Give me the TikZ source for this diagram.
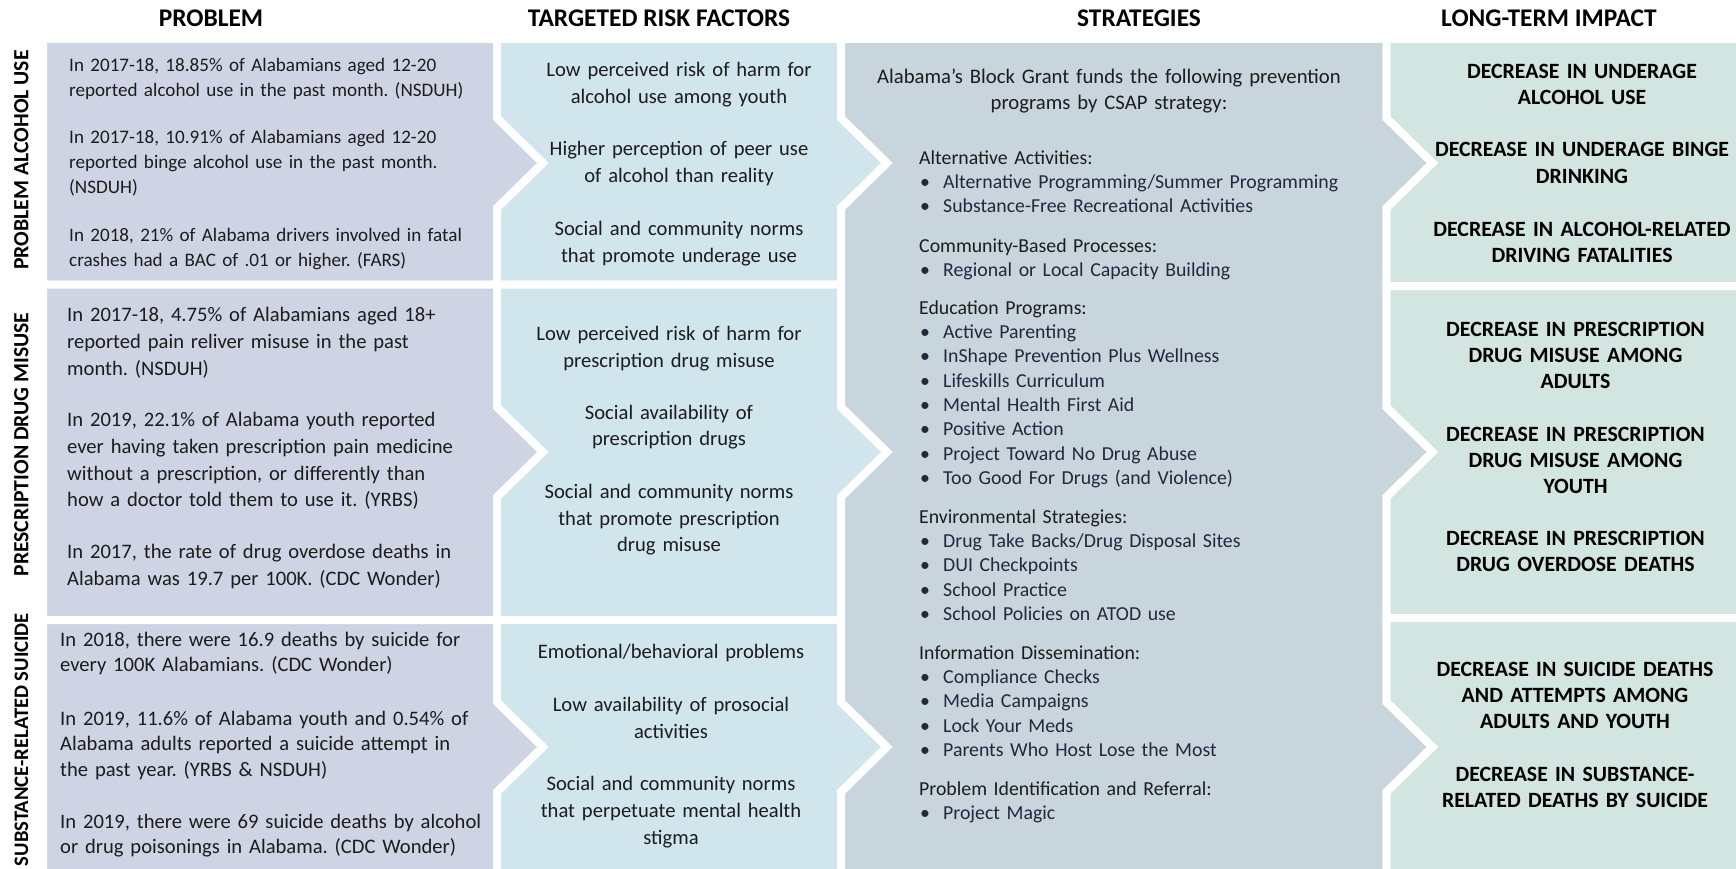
\documentclass[tikz,border=0pt]{standalone}
\usepackage{fontspec}
\setmainfont{Carlito}
\frenchspacing
\definecolor{probfill}{RGB}{206,212,228}
\definecolor{riskfill}{RGB}{208,229,236}
\definecolor{stratfill}{RGB}{201,213,220}
\definecolor{impfill}{RGB}{210,229,224}
\definecolor{ink}{RGB}{28,28,28}
\definecolor{listink}{RGB}{36,38,62}
\newcommand\stratitem[1]{\hspace*{1pt}\makebox[23pt][l]{\textbullet}#1}

\begin{document}
\begin{tikzpicture}[x=1pt,y=-1pt,
  panel/.style={draw=white, line width=8pt, line join=miter},
  colhead/.style={font=\fontsize{25.4}{30}\selectfont\bfseries, anchor=base, inner sep=0pt, text=black},
  rowhead/.style={font=\fontsize{21.7}{26}\selectfont\bfseries, anchor=base, rotate=90, inner sep=0pt, text=black},
  probtxt/.style={anchor=base west, inner sep=0pt, align=left, text width=450pt, text=ink},
  risktxt/.style={anchor=base, inner sep=0pt, align=center, text width=330pt, text=ink,
    font=\fontsize{20.6}{26.7}\selectfont},
  introtxt/.style={anchor=base, inner sep=0pt, align=center, text width=520pt, text=ink,
    font=\fontsize{20.7}{26.7}\selectfont},
  grouptxt/.style={anchor=base west, inner sep=0pt, align=left, text width=440pt, text=ink,
    font=\fontsize{19.8}{24.3}\selectfont},
  imptxt/.style={anchor=base, inner sep=0pt, align=center, text width=340pt, text=black,
    font=\fontsize{21.8}{26.2}\selectfont\bfseries},
]
\useasboundingbox (0,0) rectangle (1736,869);
\clip (0,0) rectangle (1736,869);

% ---------- problem column (one panel per row, chevron on the right)
\path[panel, fill=probfill] (43,39) -- (497,39) -- (497,118) -- (543,163) -- (497,208)
  -- (497,284.5) -- (43,284.5) -- cycle;
\path[panel, fill=probfill] (43,284.5) -- (497,284.5) -- (497,407) -- (543,452) -- (497,497)
  -- (497,620) -- (43,620) -- cycle;
\path[panel, fill=probfill] (43,620) -- (497,620) -- (497,702) -- (543,747) -- (497,792)
  -- (497,875) -- (43,875) -- cycle;

% ---------- risk factor column (notch on the left, chevron on the right)
\path[panel, fill=riskfill] (497,39) -- (841,39) -- (841,118) -- (887,163) -- (841,208)
  -- (841,284.5) -- (497,284.5) -- (497,208) -- (543,163) -- (497,118) -- cycle;
\path[panel, fill=riskfill] (497,284.5) -- (841,284.5) -- (841,407) -- (887,452) -- (841,497)
  -- (841,620) -- (497,620) -- (497,497) -- (543,452) -- (497,407) -- cycle;
\path[panel, fill=riskfill] (497,620) -- (841,620) -- (841,702) -- (887,747) -- (841,792)
  -- (841,875) -- (497,875) -- (497,792) -- (543,747) -- (497,702) -- cycle;

% ---------- strategies column (one tall panel)
\path[panel, fill=stratfill] (841,39) -- (1386.5,39)
  -- (1386.5,118) -- (1432.5,163) -- (1386.5,208)
  -- (1386.5,407) -- (1432.5,452) -- (1386.5,497)
  -- (1386.5,702) -- (1432.5,747) -- (1386.5,792)
  -- (1386.5,875) -- (841,875)
  -- (841,792) -- (887,747) -- (841,702)
  -- (841,497) -- (887,452) -- (841,407)
  -- (841,208) -- (887,163) -- (841,118) -- cycle;

% ---------- long-term impact column
\path[panel, fill=impfill] (1386.5,39) -- (1750,39) -- (1750,286) -- (1386.5,286)
  -- (1386.5,208) -- (1432.5,163) -- (1386.5,118) -- cycle;
\path[panel, fill=impfill] (1386.5,286) -- (1750,286) -- (1750,618) -- (1386.5,618)
  -- (1386.5,497) -- (1432.5,452) -- (1386.5,407) -- cycle;
\path[panel, fill=impfill] (1386.5,618) -- (1750,618) -- (1750,875) -- (1386.5,875)
  -- (1386.5,792) -- (1432.5,747) -- (1386.5,702) -- cycle;

% ---------- column headings
\node[colhead] (hprob)  at (211,26.5)  {PROBLEM};
\node[colhead] (hrisk)  at (659,26.5)  {TARGETED RISK FACTORS};
\node[colhead] (hstrat) at (1139,26.5) {STRATEGIES};
\node[colhead] (himp)   at (1549,26.5) {LONG-TERM IMPACT};

% ---------- row headings
\node[rowhead] (ralc) at (28.3,160)   {PROBLEM ALCOHOL USE};
\node[rowhead] (rrx)  at (28.3,444.5) {PRESCRIPTION DRUG MISUSE};
\node[rowhead, font=\fontsize{20.6}{25}\selectfont\bfseries] (rsui) at (28,739.5) {SUBSTANCE-RELATED SUICIDE};

% ---------- problem statements
\begin{scope}[every node/.append style={font=\fontsize{19.1}{25}\selectfont}]
\node[probtxt] (p11) at (69,71.5) {In 2017-18, 18.85\% of Alabamians aged 12-20\\reported alcohol use in the past month. (NSDUH)};
\node[probtxt] (p12) at (69,143.3) {In 2017-18, 10.91\% of Alabamians aged 12-20\\reported binge alcohol use in the past month.\\(NSDUH)};
\node[probtxt] (p13) at (69,241) {In 2018, 21\% of Alabama drivers involved in fatal\\crashes had a BAC of .01 or higher. (FARS)};
\end{scope}
\begin{scope}[every node/.append style={font=\fontsize{20.6}{26.7}\selectfont}]
\node[probtxt] (p21) at (67,321.7) {In 2017-18, 4.75\% of Alabamians aged 18+\\reported pain reliver misuse in the past\\month. (NSDUH)};
\node[probtxt] (p22) at (67,426.7) {In 2019, 22.1\% of Alabama youth reported\\ever having taken prescription pain medicine\\without a prescription, or differently than\\how a doctor told them to use it. (YRBS)};
\node[probtxt] (p23) at (67,558.3) {In 2017, the rate of drug overdose deaths in\\Alabama was 19.7 per 100K. (CDC Wonder)};
\end{scope}
\begin{scope}[every node/.append style={font=\fontsize{20.6}{25.8}\selectfont}]
\node[probtxt] (p31) at (60,646) {In 2018, there were 16.9 deaths by suicide for\\every 100K Alabamians. (CDC Wonder)};
\node[probtxt] (p32) at (60,725) {In 2019, 11.6\% of Alabama youth and 0.54\% of\\Alabama adults reported a suicide attempt in\\the past year. (YRBS \& NSDUH)};
\node[probtxt] (p33) at (60,828) {In 2019, there were 69 suicide deaths by alcohol\\or drug poisonings in Alabama. (CDC Wonder)};
\end{scope}

% ---------- targeted risk factors
\node[risktxt] (r11) at (679,76.7)  {Low perceived risk of harm for\\alcohol use among youth};
\node[risktxt] (r12) at (679,155.7) {Higher perception of peer use\\of alcohol than reality};
\node[risktxt] (r13) at (679,235.7) {Social and community norms\\that promote underage use};
\node[risktxt] (r21) at (669,340.7) {Low perceived risk of harm for\\prescription drug misuse};
\node[risktxt] (r22) at (669,419)   {Social availability of\\prescription drugs};
\node[risktxt] (r23) at (669,498.3) {Social and community norms\\that promote prescription\\drug misuse};
\node[risktxt] (r31) at (671,658.3) {Emotional/behavioral problems};
\node[risktxt] (r32) at (671,711.7) {Low availability of prosocial\\activities};
\node[risktxt] (r33) at (671,790.7) {Social and community norms\\that perpetuate mental health\\stigma};

% ---------- strategies
\node[introtxt] (sintro) at (1109,83.3) {Alabama’s Block Grant funds the following prevention\\programs by CSAP strategy:};
\node[grouptxt] (salt) at (919,164.3) {Alternative Activities:\\
  {\color{listink}\stratitem{Alternative Programming/Summer Programming}}\\
  {\color{listink}\stratitem{Substance-Free Recreational Activities}}};
\node[grouptxt] (scom) at (919,252.3) {Community-Based Processes:\\
  {\color{listink}\stratitem{Regional or Local Capacity Building}}};
\node[grouptxt] (sedu) at (919,314.3) {Education Programs:\\
  {\color{listink}\stratitem{Active Parenting}}\\
  {\color{listink}\stratitem{InShape Prevention Plus Wellness}}\\
  {\color{listink}\stratitem{Lifeskills Curriculum}}\\
  {\color{listink}\stratitem{Mental Health First Aid}}\\
  {\color{listink}\stratitem{Positive Action}}\\
  {\color{listink}\stratitem{Project Toward No Drug Abuse}}\\
  {\color{listink}\stratitem{Too Good For Drugs (and Violence)}}};
\node[grouptxt] (senv) at (919,523.3) {Environmental Strategies:\\
  {\color{listink}\stratitem{Drug Take Backs/Drug Disposal Sites}}\\
  {\color{listink}\stratitem{DUI Checkpoints}}\\
  {\color{listink}\stratitem{School Practice}}\\
  {\color{listink}\stratitem{School Policies on ATOD use}}};
\node[grouptxt] (sinf) at (919,659.3) {Information Dissemination:\\
  {\color{listink}\stratitem{Compliance Checks}}\\
  {\color{listink}\stratitem{Media Campaigns}}\\
  {\color{listink}\stratitem{Lock Your Meds}}\\
  {\color{listink}\stratitem{Parents Who Host Lose the Most}}};
\node[grouptxt] (sprb) at (919,795) {Problem Identification and Referral:\\
  {\color{listink}\stratitem{Project Magic}}};

% ---------- long-term impact
\node[imptxt, font=\fontsize{21.8}{26.7}\selectfont\bfseries] (i11) at (1582,78.3)  {DECREASE IN UNDERAGE\\ALCOHOL USE};
\node[imptxt, font=\fontsize{21.8}{26.7}\selectfont\bfseries] (i12) at (1582,156.7) {DECREASE IN UNDERAGE BINGE\\DRINKING};
\node[imptxt, font=\fontsize{21.8}{26.7}\selectfont\bfseries] (i13) at (1582,236)   {DECREASE IN ALCOHOL-RELATED\\DRIVING FATALITIES};
\node[imptxt] (i21) at (1575.5,336)   {DECREASE IN PRESCRIPTION\\DRUG MISUSE AMONG\\ADULTS};
\node[imptxt] (i22) at (1575.5,441)   {DECREASE IN PRESCRIPTION\\DRUG MISUSE AMONG\\YOUTH};
\node[imptxt] (i23) at (1575.5,545.7) {DECREASE IN PRESCRIPTION\\DRUG OVERDOSE DEATHS};
\node[imptxt] (i31) at (1575,676) {DECREASE IN SUICIDE DEATHS\\AND ATTEMPTS AMONG\\ADULTS AND YOUTH};
\node[imptxt] (i32) at (1575,781) {DECREASE IN SUBSTANCE-\\RELATED DEATHS BY SUICIDE};
\end{tikzpicture}
\end{document}
